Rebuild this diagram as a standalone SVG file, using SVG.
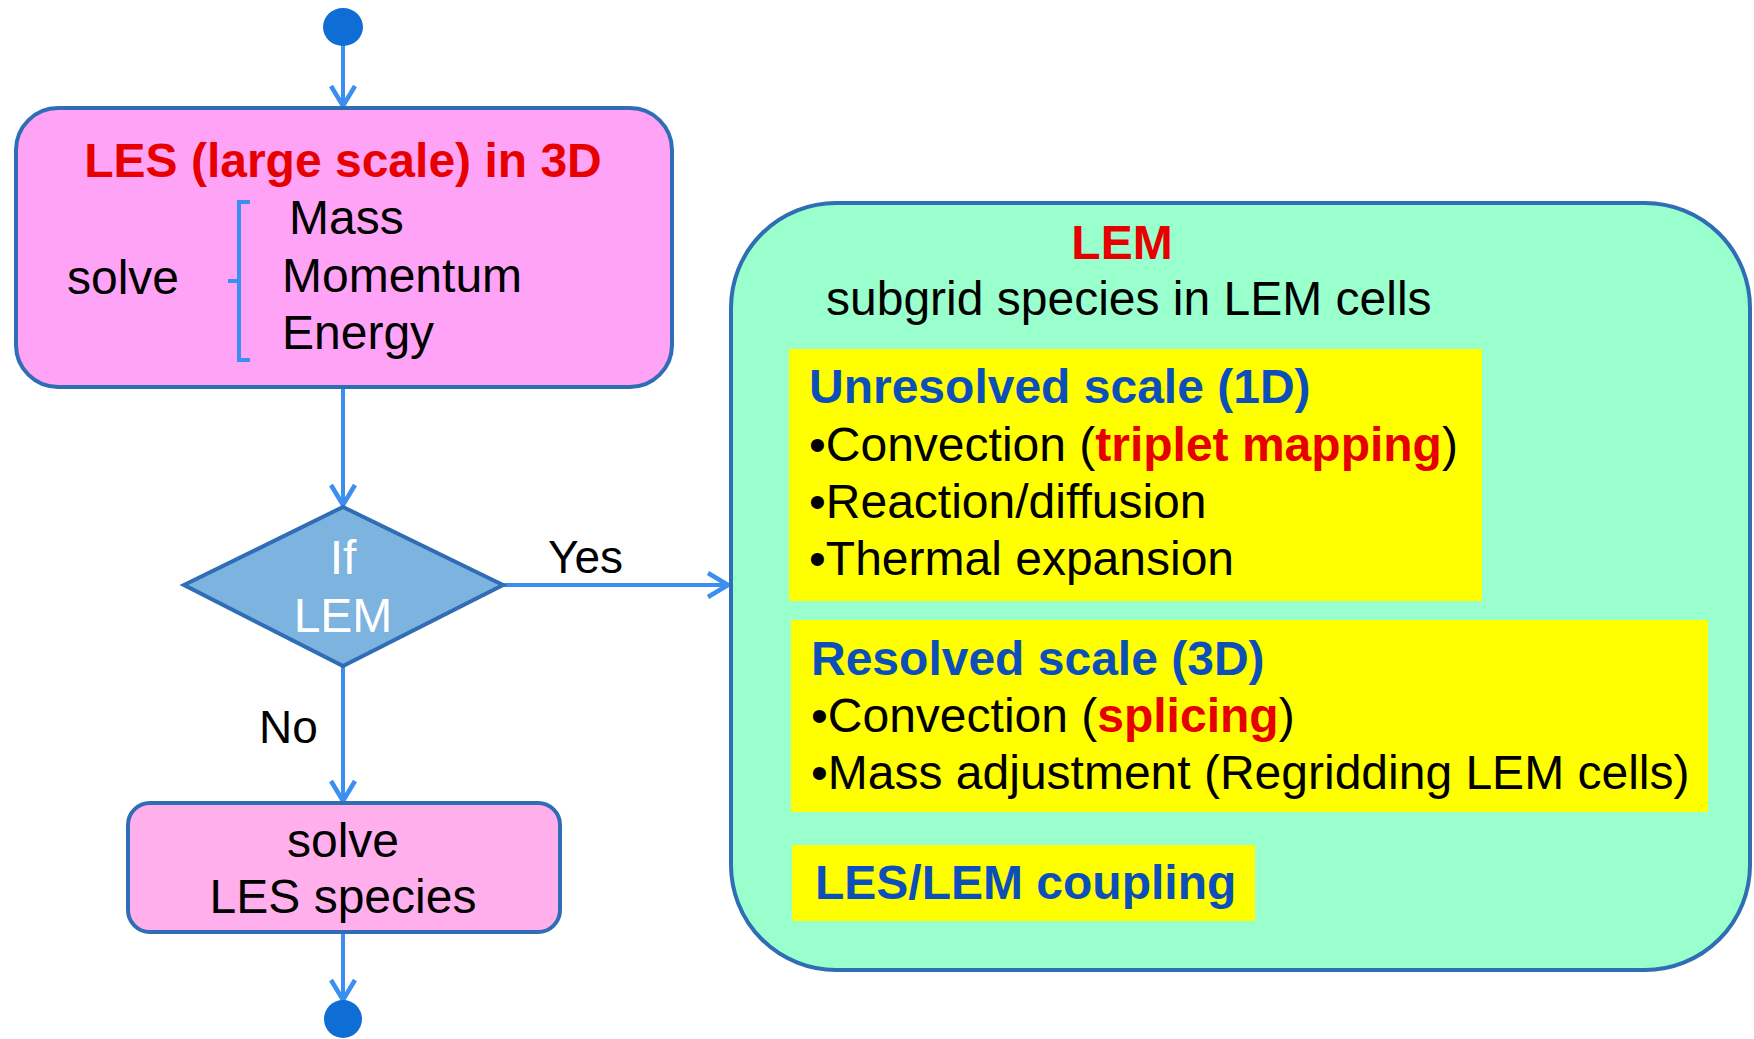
<svg xmlns="http://www.w3.org/2000/svg" width="1754" height="1039" viewBox="0 0 1754 1039">
<style>
text{font-family:"Liberation Sans",Arial,sans-serif;font-size:48px;fill:#000}
.lbl{font-size:46px}
.b{font-weight:bold}
.red{fill:#e60000}
.blue{fill:#0d4fb8}
.white{fill:#fff}
.node{stroke:#2f6db5;stroke-width:4}
.conn{stroke:#3a8ff0;stroke-width:4;fill:none}
.dot{fill:#0f6dd6}
</style>
<defs>
<marker id="arr" viewBox="0 0 26 28" refX="24" refY="14" markerWidth="26" markerHeight="28" markerUnits="userSpaceOnUse" orient="auto">
<path d="M4,2 L24,14 L4,26" fill="none" stroke="#3a8ff0" stroke-width="4.5"/>
</marker>
</defs>
<rect width="1754" height="1039" fill="#fff"/>
<g id="connectors">
<line class="conn" x1="343" y1="45" x2="343" y2="106" marker-end="url(#arr)"/>
<line class="conn" x1="343" y1="387" x2="343" y2="505" marker-end="url(#arr)"/>
<line class="conn" x1="503" y1="585" x2="728" y2="585" marker-end="url(#arr)"/>
<line class="conn" x1="343" y1="666" x2="343" y2="801" marker-end="url(#arr)"/>
<line class="conn" x1="343" y1="932" x2="343" y2="1000" marker-end="url(#arr)"/>
<text class="lbl" x="548" y="573">Yes</text>
<text class="lbl" x="259" y="743">No</text>
</g>
<g id="start"><ellipse class="dot" cx="343" cy="27" rx="20" ry="19"/></g>
<g id="les">
<rect class="node" x="16" y="108" width="656" height="279" rx="42" fill="#ffa3f6"/>
<text class="b red" x="343" y="177" text-anchor="middle">LES (large scale) in 3D</text>
<text x="67" y="294">solve</text>
<path d="M250,202 H239 V360 H250 M239,281 H228" fill="none" stroke="#3a8ff0" stroke-width="4"/>
<text x="289" y="234">Mass</text>
<text x="282" y="292">Momentum</text>
<text x="282" y="349">Energy</text>
</g>
<g id="if-lem">
<polygon class="node" points="343,507 503,585 343,666 184,585" fill="#7db3df"/>
<text class="white" x="343" y="574" text-anchor="middle">If</text>
<text class="white" x="343" y="632" text-anchor="middle">LEM</text>
</g>
<g id="species">
<rect class="node" x="128" y="803" width="432" height="129" rx="22" fill="#ffb0ec"/>
<text x="343" y="857" text-anchor="middle">solve</text>
<text x="343" y="913" text-anchor="middle">LES species</text>
</g>
<g id="end"><circle class="dot" cx="343" cy="1019" r="19"/></g>
<g id="lem">
<rect class="node" x="731" y="203" width="1019" height="767" rx="105" fill="#99ffcc"/>
<text class="b red" x="1122" y="259" text-anchor="middle">LEM</text>
<text x="826" y="315">subgrid species in LEM cells</text>
<rect x="789" y="349" width="693" height="252" fill="#ffff00"/>
<text class="b blue" x="809" y="403">Unresolved scale (1D)</text>
<text x="809" y="461">•Convection (<tspan class="b red">triplet mapping</tspan>)</text>
<text x="809" y="518">•Reaction/diffusion</text>
<text x="809" y="575">•Thermal expansion</text>
<rect x="791" y="620" width="917" height="192" fill="#ffff00"/>
<text class="b blue" x="811" y="675">Resolved scale (3D)</text>
<text x="811" y="732">•Convection (<tspan class="b red">splicing</tspan>)</text>
<text x="811" y="789">•Mass adjustment (Regridding LEM cells)</text>
<rect x="792" y="845" width="463" height="76" fill="#ffff00"/>
<text class="b blue" x="815" y="899">LES/LEM coupling</text>
</g>
</svg>
